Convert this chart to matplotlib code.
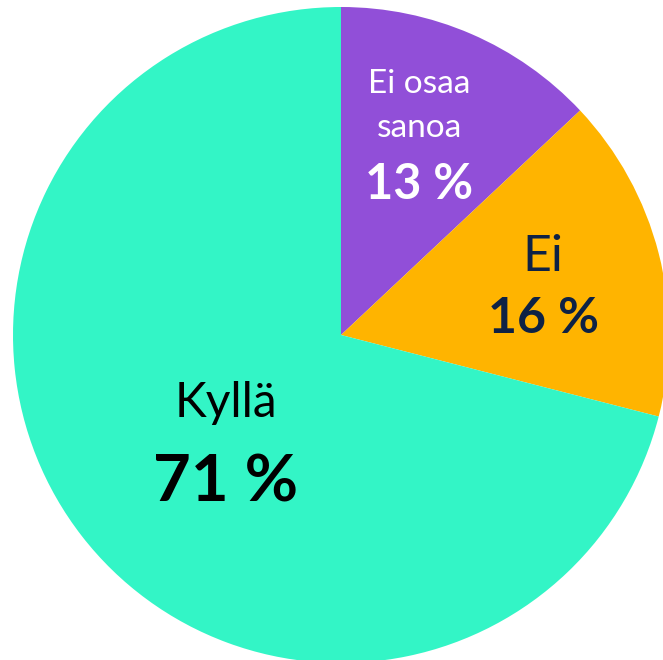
import matplotlib
matplotlib.use("Agg")
import matplotlib.pyplot as plt

labels = [["Ei osaa", "sanoa"], ["Ei"], ["Kyllä"]]
values = [13, 16, 71]
colors = ["#914FD8", "#FFB400", "#33F5C6"]
text_colors = ["white", "#0E2245", "black"]

fig = plt.figure(figsize=(6.63, 6.60), dpi=100)
ax = fig.add_axes([0, 0, 1, 1])
ax.pie(values, colors=colors, startangle=90, counterclock=False,
       radius=1, wedgeprops=dict(linewidth=0))
ax.set_aspect("auto")
ax.set_xlim(-341 / 328, 322 / 328)
ax.set_ylim(-325 / 328, 335 / 328)
ax.axis("off")

font = "Lato"
# label placement: x, baselines of name lines, baseline of percent
label_x = [0.238, 0.616, -0.351]
name_y = [[0.738, 0.604], [0.195], [-0.250]]
pct_y = [0.415, 0.006, -0.509]
name_size = [24, 36, 34.5]
pct_size = [35, 36, 47]
for i in range(len(values)):
    for line, yy in zip(labels[i], name_y[i]):
        ax.text(label_x[i], yy, line, ha="center", va="baseline", fontsize=name_size[i],
                color=text_colors[i], family=font)
    ax.text(label_x[i], pct_y[i], "%d %%" % values[i], ha="center", va="baseline",
            fontsize=pct_size[i], color=text_colors[i], family=font, fontweight="bold")

fig.savefig("out.png", dpi=100)
